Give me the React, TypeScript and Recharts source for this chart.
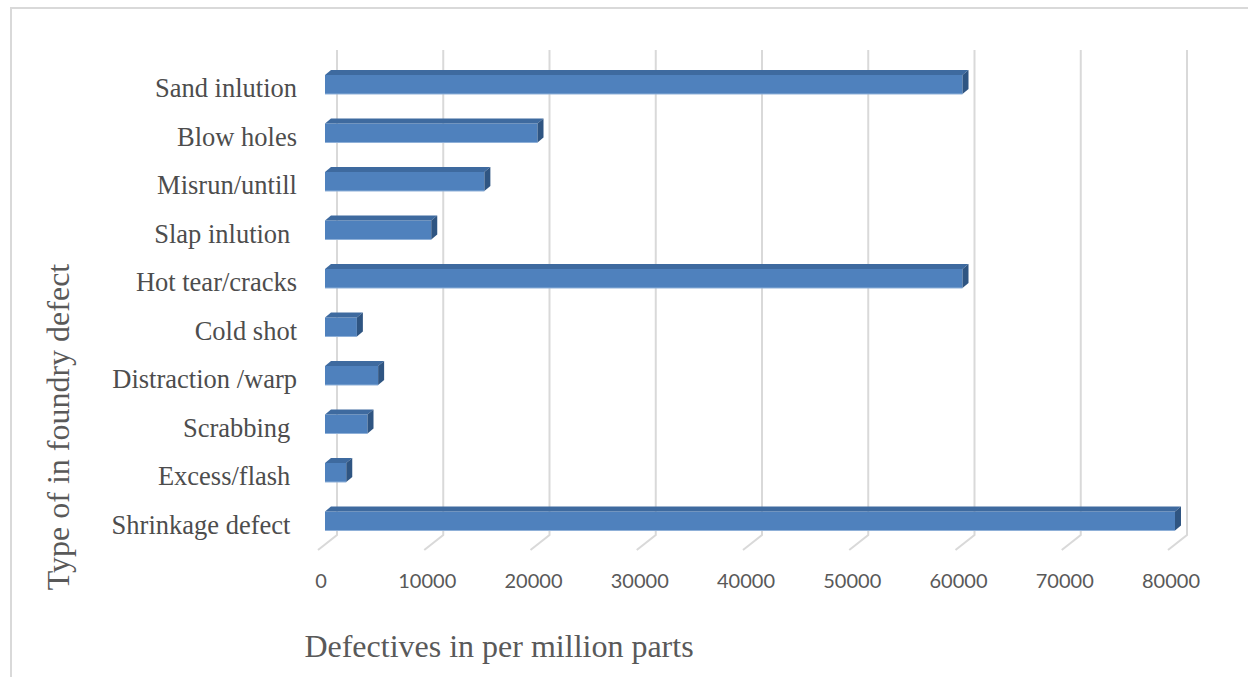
import { BarChart, Bar, XAxis, YAxis, CartesianGrid } from 'recharts';

const categories = [
  'Sand inlution',
  'Blow holes',
  'Misrun/untill',
  'Slap inlution ',
  'Hot tear/cracks',
  'Cold shot',
  'Distraction /warp',
  'Scrabbing ',
  'Excess/flash ',
  'Shrinkage defect ',
];

const defectives = [60000, 20000, 15000, 10000, 60000, 3000, 5000, 4000, 2000, 80000];

const xTicks = [0, 10000, 20000, 30000, 40000, 50000, 60000, 70000, 80000];

const data = categories.map((name, i) => ({ name, value: defectives[i] }));

const DEPTH_X = 6;
const DEPTH_Y = 5;

function Bar3D(props: any) {
  const { x, y, width, height } = props;
  if (width == null || width <= 0) return null;
  const r = x + width;
  return (
    <g>
      <rect x={x} y={y} width={width} height={height} fill="#4f81bd" />
      <polygon
        points={`${x},${y} ${x + DEPTH_X},${y - DEPTH_Y} ${r + DEPTH_X},${y - DEPTH_Y} ${r},${y}`}
        fill="#3e6a9f"
      />
      <polygon
        points={`${r},${y} ${r + DEPTH_X},${y - DEPTH_Y} ${r + DEPTH_X},${y + height - DEPTH_Y} ${r},${y + height}`}
        fill="#2f5582"
      />
      <line x1={x} y1={y + height} x2={r} y2={y + height} stroke="#8fb0d8" strokeWidth={1} />
    </g>
  );
}

// back-wall gridline with the slanted floor segment
function GridLine3D(props: any) {
  const { x1, y1, y2, index } = props;
  const bx = x1 + 12;
  return (
    <path
      key={`g-${index}`}
      d={`M${bx},${y1 - 10} L${bx},${y2 - 10} L${x1 - 7},${y2 + 5}`}
      fill="none"
      stroke="#d9d9d9"
      strokeWidth={2}
    />
  );
}

function CategoryTick(props: any) {
  const { x, y, payload } = props;
  return (
    <text
      x={x - 28}
      y={y + 13}
      textAnchor="end"
      xmlSpace="preserve"
      fontFamily="'Liberation Serif', 'Times New Roman', serif"
      fontSize={26.5}
      fill="#4d4d4d"
    >
      {payload.value}
    </text>
  );
}

function ValueTick(props: any) {
  const { x, y, payload } = props;
  return (
    <text
      x={x - 4}
      y={y + 43}
      textAnchor="middle"
      fontFamily="Lato, 'Open Sans', sans-serif"
      fontSize={20}
      fill="#595959"
    >
      {payload.value}
    </text>
  );
}

export default function App() {
  return (
    <div style={{ position: 'relative', width: 1248, height: 677, overflow: 'hidden', background: '#fff' }}>
      <style>{'body{margin:0}'}</style>
      <div
        style={{
          position: 'absolute',
          left: 10,
          top: 7,
          width: 1248,
          height: 700,
          borderLeft: '2px solid #d9d9d9',
          borderTop: '2px solid #d9d9d9',
        }}
      />
      <BarChart
        width={1248}
        height={677}
        data={data}
        layout="vertical"
        margin={{ top: 60, right: 73, left: 0, bottom: 0 }}
        style={{ position: 'absolute', left: 0, top: 0 }}
      >
        <CartesianGrid horizontal={false} vertical={GridLine3D} />
        <XAxis
          type="number"
          domain={[0, 80000]}
          ticks={xTicks}
          axisLine={false}
          tickLine={false}
          tickSize={0}
          tickMargin={0}
          height={132}
          tick={ValueTick}
          interval={0}
        />
        <YAxis
          type="category"
          dataKey="name"
          axisLine={false}
          tickLine={false}
          tickSize={0}
          tickMargin={0}
          width={325}
          tick={CategoryTick}
          interval={0}
        />
        <Bar dataKey="value" barSize={19} shape={Bar3D} isAnimationActive={false} />
      </BarChart>
      <div
        style={{
          position: 'absolute',
          left: 499,
          top: 646,
          transform: 'translate(-50%, -50%)',
          whiteSpace: 'nowrap',
          fontFamily: "'Liberation Serif', 'Times New Roman', serif",
          fontSize: 32,
          color: '#595959',
        }}
      >
        Defectives in per million parts
      </div>
      <div
        style={{
          position: 'absolute',
          left: 58,
          top: 427,
          transform: 'translate(-50%, -50%) rotate(-90deg)',
          whiteSpace: 'nowrap',
          fontFamily: "'Liberation Serif', 'Times New Roman', serif",
          fontSize: 32,
          color: '#595959',
        }}
      >
        Type of in foundry defect
      </div>
    </div>
  );
}
